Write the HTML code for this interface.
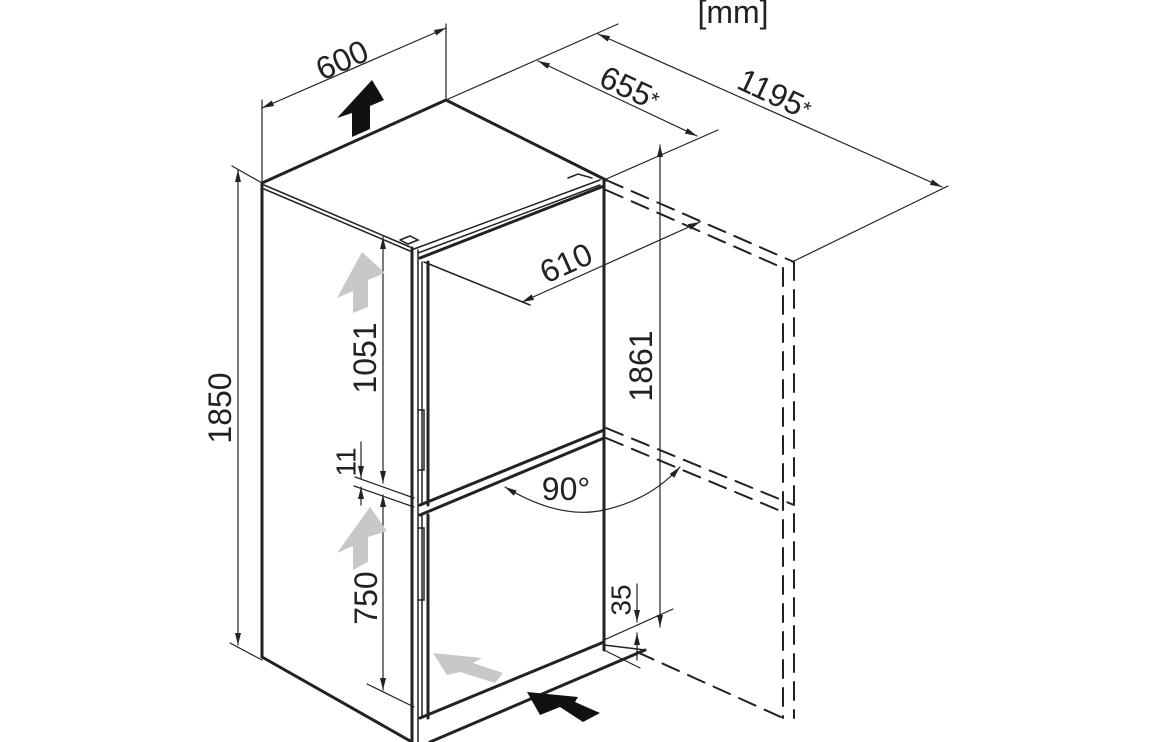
<!DOCTYPE html>
<html><head><meta charset="utf-8"><style>
html,body{margin:0;padding:0;background:#fff;}
svg{display:block;}
text{font-family:"Liberation Sans",sans-serif;fill:#222;}
</style></head><body>
<svg width="1156" height="742" viewBox="0 0 1156 742" xmlns="http://www.w3.org/2000/svg">
<defs>
<marker id="a" viewBox="0 0 12 6" refX="12" refY="3" markerWidth="12" markerHeight="6" markerUnits="userSpaceOnUse" orient="auto-start-reverse"><path d="M0,0 L12,3 L0,6z" fill="#222"/></marker>
</defs>
<g stroke="#222" fill="none" stroke-linecap="round">
<g stroke-width="3">
<polyline points="262,183 446,100 606,180"/>
<line x1="262" y1="183" x2="262" y2="657"/>
<line x1="262" y1="657" x2="412" y2="742"/>
<line x1="604" y1="180" x2="604" y2="650"/>
<line x1="412" y1="248" x2="412" y2="742"/>
<line x1="418" y1="250" x2="418" y2="742" stroke-width="1.5"/>
</g>
<g stroke-width="1.5">
<line x1="264" y1="185" x2="410" y2="247"/>
<line x1="264" y1="189" x2="410" y2="251"/>
<line x1="414" y1="249" x2="600" y2="180"/>
<line x1="418" y1="253" x2="600" y2="185"/>
<polyline points="400,240 410,236 418,240 408,244 400,240"/>
<polyline points="568,178 578,174 592,178"/>
</g>
<g stroke-width="3">
<line x1="420" y1="258" x2="604" y2="186"/>
<line x1="428" y1="262" x2="428" y2="505"/>
<line x1="420" y1="505" x2="604" y2="430"/>
<line x1="420" y1="515" x2="604" y2="438"/>
<line x1="428" y1="515" x2="428" y2="718"/>
<line x1="420" y1="718" x2="604" y2="642"/>
<line x1="430" y1="742" x2="645" y2="650"/>
</g>
<g stroke-width="1.5">
<line x1="422" y1="262" x2="422" y2="505"/>
<line x1="422" y1="515" x2="422" y2="718"/>
<line x1="424" y1="262" x2="530" y2="305"/>
<polyline points="418,410 424,410 424,470 418,470"/>
<polyline points="418,528 424,528 424,600 418,600"/>
<line x1="604" y1="645" x2="645" y2="650"/>
</g>
<g stroke-width="2" stroke-dasharray="18,10">
<line x1="606" y1="180" x2="794" y2="262"/>
<line x1="606" y1="190" x2="783" y2="268"/>
<line x1="794" y1="262" x2="794" y2="718"/>
<line x1="783" y1="268" x2="783" y2="718"/>
<line x1="606" y1="428" x2="794" y2="505"/>
<line x1="606" y1="438" x2="783" y2="512"/>
<line x1="637" y1="652" x2="783" y2="718"/>
</g>
<g stroke-width="1.2">
<line x1="262" y1="183" x2="262" y2="100"/>
<line x1="446" y1="100" x2="446" y2="24"/>
<line x1="262" y1="108" x2="446" y2="28" marker-start="url(#a)" marker-end="url(#a)"/>
<line x1="446" y1="100" x2="618" y2="24"/>
<line x1="604" y1="180" x2="718" y2="130"/>
<line x1="792" y1="262" x2="948" y2="186"/>
<line x1="538" y1="61" x2="697" y2="136" marker-start="url(#a)" marker-end="url(#a)"/>
<line x1="598" y1="34" x2="942" y2="187" marker-start="url(#a)" marker-end="url(#a)"/>
<line x1="522" y1="302" x2="700" y2="222" marker-start="url(#a)" marker-end="url(#a)"/>
<line x1="232" y1="166" x2="262" y2="183"/>
<line x1="230" y1="643" x2="262" y2="660"/>
<line x1="238" y1="170" x2="238" y2="645" marker-start="url(#a)" marker-end="url(#a)"/>
<line x1="383" y1="237" x2="383" y2="483" marker-start="url(#a)" marker-end="url(#a)"/>
<line x1="383" y1="495" x2="383" y2="690" marker-start="url(#a)" marker-end="url(#a)"/>
<line x1="355" y1="477" x2="414" y2="498"/>
<line x1="354" y1="486" x2="414" y2="507"/>
<line x1="367" y1="684" x2="414" y2="707"/>
<line x1="361" y1="442" x2="361" y2="478" marker-end="url(#a)"/>
<line x1="361" y1="505" x2="361" y2="487" marker-end="url(#a)"/>
<line x1="660" y1="145" x2="660" y2="627" marker-start="url(#a)" marker-end="url(#a)"/>
<line x1="604" y1="640" x2="673" y2="609"/>
<line x1="604" y1="650" x2="640" y2="668"/>
<line x1="637" y1="584" x2="637" y2="622" marker-end="url(#a)"/>
<line x1="637" y1="660" x2="637" y2="633" marker-end="url(#a)"/>
<path d="M505,487 Q560,520 604,510 Q650,500 680,467" marker-start="url(#a)" marker-end="url(#a)"/>
</g>
</g>
<polygon points="352,137 370,129 370,106 384,100 372,80 337,118 352,113" fill="#111"/>
<polygon points="353,313 368,307 368,280 385,273 362,252 337,298 353,291" fill="#c8c8c8"/>
<polygon points="353,570 368,562 368,537 387,531 370,507 337,553 353,546" fill="#c8c8c8"/>
<polygon points="433,653 482,658 473,663 503,673 495,683 460,672 447,675" fill="#c8c8c8"/>
<polygon points="527,692 578,697 575,702 600,713 583,722 560,707 540,715" fill="#111"/>
<g font-size="32" text-anchor="middle" dominant-baseline="central">
<text transform="translate(342,60) rotate(-24)">600</text>
<text transform="translate(630,88) rotate(25)">655<tspan font-size="22">*</tspan></text>
<text transform="translate(775,94) rotate(25)">1195<tspan font-size="22">*</tspan></text>
<text transform="translate(566,263) rotate(-24)">610</text>
<text transform="translate(220,408) rotate(-90)">1850</text>
<text transform="translate(365,358) rotate(-90)">1051</text>
<text transform="translate(346,462) rotate(-90)" font-size="28">11</text>
<text transform="translate(366,598) rotate(-90)">750</text>
<text transform="translate(641,366) rotate(-90)">1861</text>
<text transform="translate(621,600) rotate(-90)" font-size="28">35</text>
<text x="566" y="489">90°</text>
<text x="733" y="12">[mm]</text>
</g>
</svg>
</body></html>
